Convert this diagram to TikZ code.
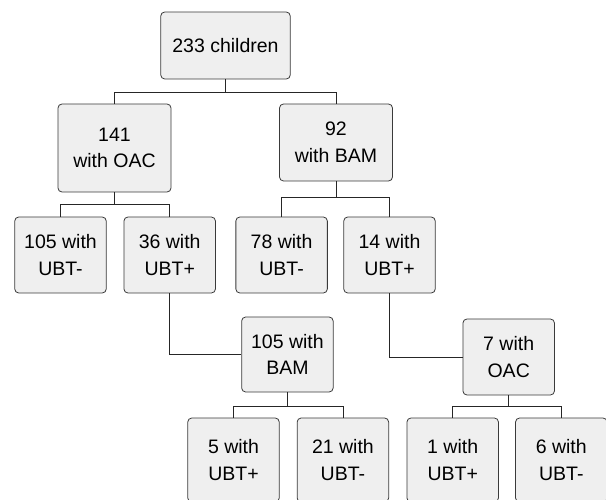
\documentclass[tikz,border=0pt]{standalone}
\usepackage{fontspec}
\setmainfont{Liberation Sans}
\usepackage{xcolor}
\definecolor{boxfill}{HTML}{EFEFEF}
\definecolor{boxline}{HTML}{3A3A3A}
\tikzset{
  box/.style={draw=boxline, fill=boxfill, line width=0.8pt, rounded corners=4pt,
    align=center, inner sep=0pt, font=\fontsize{19.5}{26.5}\selectfont},
  leaf/.style={box, minimum width=91.5pt, minimum height=76pt},
  link/.style={draw=black!85, line width=0.8pt}
}
\begin{document}
\begin{tikzpicture}[x=1pt,y=-1pt]
    \useasboundingbox (0,0) rectangle (606,500);
    \clip (0,0) rectangle (606,500);

    \node[box, minimum width=129.5pt, minimum height=67pt] (root) at (225.5,45.5) {233 children};
    \node[box, minimum width=113pt, minimum height=88pt] (oac) at (114.5,148) {141\\with OAC};
    \node[box, minimum width=113pt, minimum height=77pt] (bam) at (336,142.5) {92\\with BAM};

    \node[leaf] (oacneg) at (60.5,255) {105 with\\UBT-};
    \node[leaf] (oacpos) at (169.7,255) {36 with\\UBT+};
    \node[leaf] (bamneg) at (281.6,255) {78 with\\UBT-};
    \node[leaf] (bampos) at (389.5,255) {14 with\\UBT+};

    \node[leaf, minimum height=75pt] (bamtwo) at (287.4,354.5) {105 with\\BAM};
    \node[leaf] (oactwo) at (508.7,357) {7 with\\OAC};

    \node[leaf, minimum height=84pt] (bamtwopos) at (233.5,460) {5 with\\UBT+};
    \node[leaf, minimum height=84pt] (bamtwoneg) at (342.9,460) {21 with\\UBT-};
    \node[leaf, minimum height=84pt] (oactwopos) at (452.7,460) {1 with\\UBT+};
    \node[leaf, minimum height=84pt] (oactwoneg) at (561.3,460) {6 with\\UBT-};

    % forks
    \draw[link] (root.south) -- ++(0,13) -| (oac.north);
    \draw[link] (root.south) -- ++(0,13) -| (bam.north);
    \draw[link] (oac.south) -- ++(0,12) -| (oacneg.north);
    \draw[link] (oac.south) -- ++(0,12) -| (oacpos.north);
    \draw[link] (bam.south) -- ++(0,16) -| (bamneg.north);
    \draw[link] (bam.south) -- ++(0,16) -| (bampos.north);
    \draw[link] (bamtwo.south) -- ++(0,14) -| (bamtwopos.north);
    \draw[link] (bamtwo.south) -- ++(0,14) -| (bamtwoneg.north);
    \draw[link] (oactwo.south) -- ++(0,11) -| (oactwopos.north);
    \draw[link] (oactwo.south) -- ++(0,11) -| (oactwoneg.north);

    % second tests
    \draw[link] (oacpos.south) |- (bamtwo.west);
    \draw[link] (bampos.south) |- (oactwo.west);
\end{tikzpicture}
\end{document}
